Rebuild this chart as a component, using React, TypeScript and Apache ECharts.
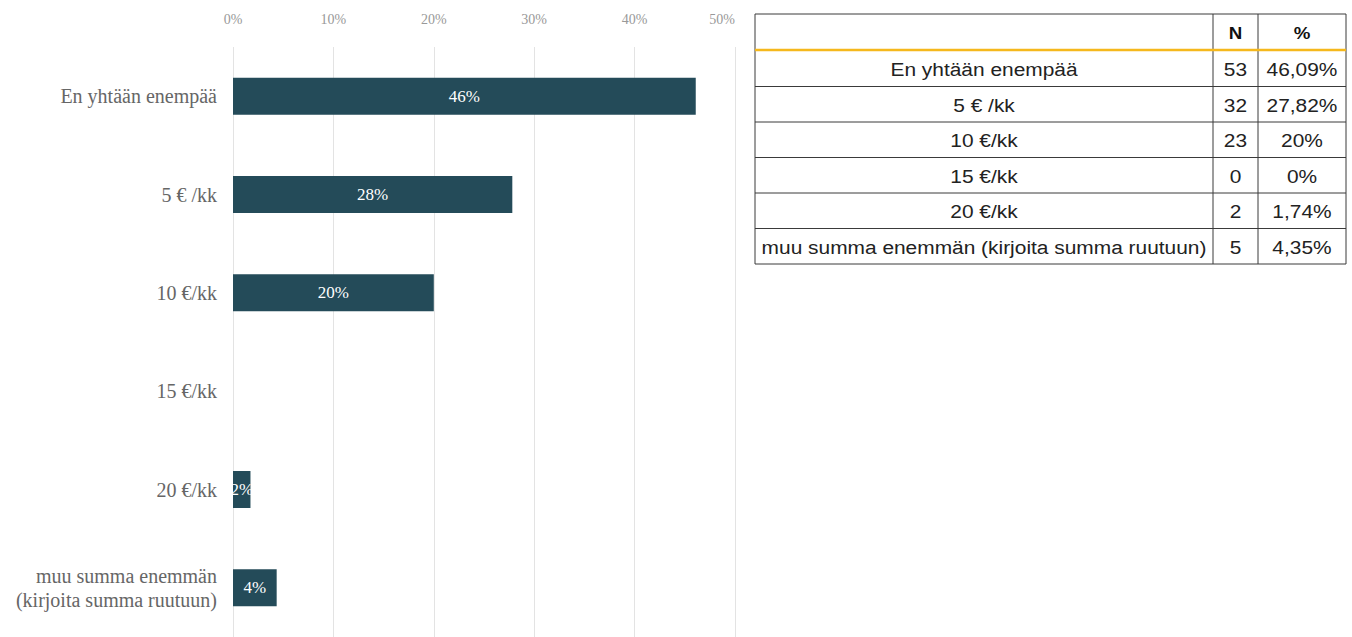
import React, { useEffect, useRef } from "react";
import * as echarts from "echarts";

const categories = [
  "En yhtään enempää",
  "5 € /kk",
  "10 €/kk",
  "15 €/kk",
  "20 €/kk",
  "muu summa enemmän\n(kirjoita summa ruutuun)",
];
const percentValues = [46.09, 27.82, 20, 0, 1.74, 4.35];
const xTickValues = [0, 10, 20, 30, 40, 50];

const tableHeader = ["", "N", "%"];
const tableLabels = [
  "En yhtään enempää",
  "5 € /kk",
  "10 €/kk",
  "15 €/kk",
  "20 €/kk",
  "muu summa enemmän (kirjoita summa ruutuun)",
];
const tableCounts = ["53", "32", "23", "0", "2", "5"];
const tablePercents = ["46,09%", "27,82%", "20%", "0%", "1,74%", "4,35%"];

function buildTable() {
  const colX = [755, 1213, 1258, 1346];
  const headerTop = 14;
  const headerBottom = 51;
  const rowH = 35.5;
  const n = tableLabels.length;
  const bottom = headerBottom + rowH * n;
  const els: any[] = [];
  const border = "#3a3a3a";
  const font = '"Liberation Sans", Arial, sans-serif';
  els.push({
    type: "rect",
    shape: { x: colX[0], y: headerTop, width: colX[3] - colX[0], height: bottom - headerTop },
    style: { fill: "#fff", stroke: border, lineWidth: 1 },
  });
  for (let c = 1; c < 3; c++) {
    els.push({
      type: "line",
      shape: { x1: colX[c], y1: headerTop, x2: colX[c], y2: bottom },
      style: { stroke: border, lineWidth: 1 },
    });
  }
  for (let r = 1; r < n; r++) {
    const y = headerBottom + rowH * r;
    els.push({
      type: "line",
      shape: { x1: colX[0], y1: y, x2: colX[3], y2: y },
      style: { stroke: border, lineWidth: 1 },
    });
  }
  els.push({
    type: "line",
    shape: { x1: colX[0], y1: headerBottom - 1, x2: colX[3], y2: headerBottom - 1 },
    style: { stroke: "#f5b81c", lineWidth: 2.5 },
  });
  for (let c = 0; c < 3; c++) {
    if (!tableHeader[c]) continue;
    els.push({
      type: "text",
      x: (colX[c] + colX[c + 1]) / 2,
      y: (headerTop + headerBottom) / 2 + 1,
      scaleX: 1.1,
      style: {
        text: tableHeader[c],
        fill: "#111",
        font: `bold 17px ${font}`,
        align: "center",
        verticalAlign: "middle",
      },
    });
  }
  for (let r = 0; r < n; r++) {
    const cy = headerBottom + rowH * r + rowH / 2 + 1;
    const cells = [tableLabels[r], tableCounts[r], tablePercents[r]];
    for (let c = 0; c < 3; c++) {
      els.push({
        type: "text",
        x: (colX[c] + colX[c + 1]) / 2,
        y: cy,
        scaleX: 1.1,
        style: {
          text: cells[c],
          fill: "#222",
          font: `19px ${font}`,
          align: "center",
          verticalAlign: "middle",
        },
      });
    }
  }
  return els;
}

export default function App() {
  const ref = useRef<HTMLDivElement>(null);
  useEffect(() => {
    if (!ref.current) return;
    const chart = echarts.init(ref.current, undefined, { renderer: "svg" });
    const serif = '"Liberation Serif", "Times New Roman", serif';
    chart.setOption({
      animation: false,
      backgroundColor: "#ffffff",
      grid: { left: 233, top: 47, width: 502, height: 594, containLabel: false },
      xAxis: {
        type: "value",
        position: "top",
        min: xTickValues[0],
        max: xTickValues[xTickValues.length - 1],
        interval: 10,
        axisLine: { show: false },
        axisTick: { show: false },
        splitLine: { show: true, lineStyle: { color: "#e3e3e3", width: 1 } },
        axisLabel: {
          formatter: (v: number) => `${v}%`,
          color: "#999999",
          fontFamily: serif,
          fontSize: 14,
          margin: 21,
          alignMaxLabel: "right",
        },
      },
      yAxis: {
        type: "category",
        inverse: true,
        data: categories,
        axisLine: { show: false },
        axisTick: { show: false },
        splitLine: { show: false },
        axisLabel: {
          color: "#666666",
          fontFamily: serif,
          fontSize: 20,
          margin: 16,
          lineHeight: 24,
          align: "right",
        },
      },
      series: [
        {
          type: "bar",
          data: percentValues,
          barWidth: 37,
          itemStyle: { color: "#244b59" },
          label: {
            show: true,
            position: "inside",
            color: "#ffffff",
            fontFamily: serif,
            fontSize: 17,
            formatter: (p: any) => (p.value > 0 ? `${Math.round(p.value)}%` : ""),
          },
        },
      ],
      graphic: buildTable(),
    });
    return () => chart.dispose();
  }, []);
  return (
    <div
      ref={ref}
      style={{ position: "fixed", left: 0, top: 0, width: 1352, height: 637, background: "#fff" }}
    />
  );
}
